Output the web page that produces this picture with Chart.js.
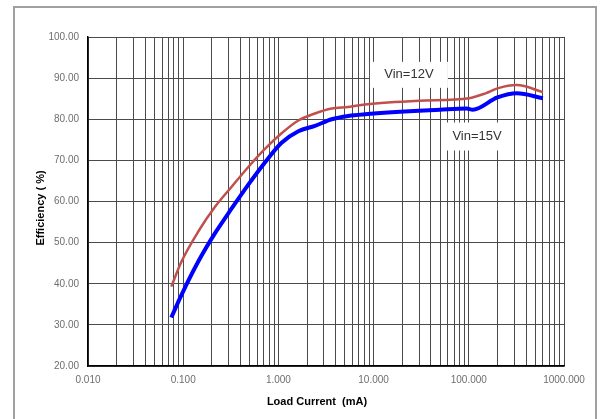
<!DOCTYPE html>
<html>
<head>
<meta charset="utf-8">
<script src="https://cdn.jsdelivr.net/npm/chart.js@4.4.0/dist/chart.umd.min.js"></script>
<style>
  body { margin: 0; background: #fff; }
  canvas { display: block; }
</style>
</head>
<body>
<canvas id="effChart" width="605" height="419"></canvas>
<script>
// data
const current12 = [0.075, 0.096, 0.144, 0.216, 0.323, 0.483, 0.722, 1.08, 1.62, 2.42, 3.63, 5.42, 8.13, 30, 100, 150, 200, 320, 600];
const eff12 = [39.3, 45.4, 52.7, 58.7, 63.6, 68.4, 72.8, 76.6, 79.7, 81.4, 82.6, 83.0, 83.6, 84.5, 85.1, 86.3, 87.5, 88.3, 86.6];
const current15 = [0.075, 0.096, 0.144, 0.216, 0.323, 0.483, 0.722, 1.08, 1.62, 2.42, 3.63, 5.42, 8.13, 50, 95, 110, 200, 320, 600];
const eff15 = [31.8, 37.3, 45.4, 52.3, 58.3, 64.1, 69.5, 74.3, 77.1, 78.4, 80.0, 80.8, 81.2, 82.3, 82.6, 82.3, 85.3, 86.3, 85.1];
const decades = [-2, -1, 0, 1, 2];
const yTicks = [20, 30, 40, 50, 60, 70, 80, 90, 100];
const labels = [
  { text: 'Vin=12V', x: 23.5, y: 90.8, w: 78, h: 26 },
  { text: 'Vin=15V', x: 122, y: 75.8, w: 70, h: 28 },
];

// utils
function toPoints(xs, ys) {
  return xs.map((x, i) => ({ x: x, y: ys[i] }));
}
function isDecade(v) {
  const l = Math.log10(v);
  return Math.abs(l - Math.round(l)) < 1e-9;
}
function logTicks() {
  const ticks = [];
  decades.forEach(e => {
    for (let m = 1; m <= 9; m++) {
      ticks.push({ value: Number((m * Math.pow(10, e)).toPrecision(3)) });
    }
  });
  ticks.push({ value: 1000 });
  return ticks;
}

const framePlugin = {
  id: 'frame',
  beforeDraw(chart) {
    const ctx = chart.ctx;
    ctx.save();
    ctx.fillStyle = '#fff';
    ctx.fillRect(0, 0, chart.width, chart.height);
    ctx.strokeStyle = '#a0a0a0';
    ctx.lineWidth = 2;
    ctx.strokeRect(14, 7, 582, 430);
    ctx.restore();
  },
  afterDraw(chart) {
    const ctx = chart.ctx;
    const xs = chart.scales.x;
    const ys = chart.scales.y;
    ctx.save();
    // in-plot labels
    ctx.font = '13px "Liberation Sans", Arial, sans-serif';
    ctx.textAlign = 'center';
    ctx.textBaseline = 'middle';
    labels.forEach(l => {
      const cx = xs.getPixelForValue(l.x);
      const cy = ys.getPixelForValue(l.y);
      ctx.fillStyle = '#fff';
      ctx.fillRect(cx - l.w / 2, cy - l.h / 2, l.w, l.h);
      ctx.fillStyle = '#333';
      ctx.fillText(l.text, cx, cy);
    });
    // axis titles
    ctx.fillStyle = '#000';
    ctx.font = 'bold 11px "Liberation Sans", Arial, sans-serif';
    ctx.fillText('Load Current  (mA)', 317, 402);
    ctx.translate(41, 208);
    ctx.rotate(-Math.PI / 2);
    ctx.fillText('Efficiency ( %)', 0, 0);
    ctx.restore();
  }
};

new Chart(document.getElementById('effChart'), {
  type: 'line',
  data: {
    datasets: [
      {
        label: 'Vin=12V',
        data: toPoints(current12, eff12),
        borderColor: '#c0504d',
        borderWidth: 2.5,
        pointRadius: 0,
        cubicInterpolationMode: 'monotone',
      },
      {
        label: 'Vin=15V',
        data: toPoints(current15, eff15),
        borderColor: '#0000ff',
        borderWidth: 4,
        pointRadius: 0,
        cubicInterpolationMode: 'monotone',
      }
    ]
  },
  options: {
    responsive: false,
    animation: false,
    layout: { padding: { left: 0, top: 37, right: 41, bottom: 0 } },
    plugins: {
      legend: { display: false },
      tooltip: { enabled: false },
    },
    scales: {
      x: {
        type: 'logarithmic',
        min: 0.01,
        max: 1000,
        afterBuildTicks(scale) { scale.ticks = logTicks(); },
        afterFit(scale) { scale.height = 53; },
        grid: { color: '#4a4a4a', lineWidth: 1, drawTicks: false },
        border: { color: '#000', width: 1.5 },
        ticks: {
          autoSkip: false,
          maxRotation: 0,
          padding: 8,
          color: '#6e6e6e',
          font: { family: '"Liberation Sans", Arial, sans-serif', size: 10 },
          callback: v => isDecade(v) ? Number(v).toFixed(3) : '',
        },
      },
      y: {
        min: 20,
        max: 100,
        afterBuildTicks(scale) { scale.ticks = yTicks.map(v => ({ value: v })); },
        afterFit(scale) { scale.width = 88; },
        grid: { color: '#4a4a4a', lineWidth: 1, drawTicks: false },
        border: { color: '#000', width: 1.5 },
        ticks: {
          padding: 9,
          color: '#6e6e6e',
          font: { family: '"Liberation Sans", Arial, sans-serif', size: 10 },
          callback: v => Number(v).toFixed(2),
        },
      }
    }
  },
  plugins: [framePlugin]
});
</script>
</body>
</html>
